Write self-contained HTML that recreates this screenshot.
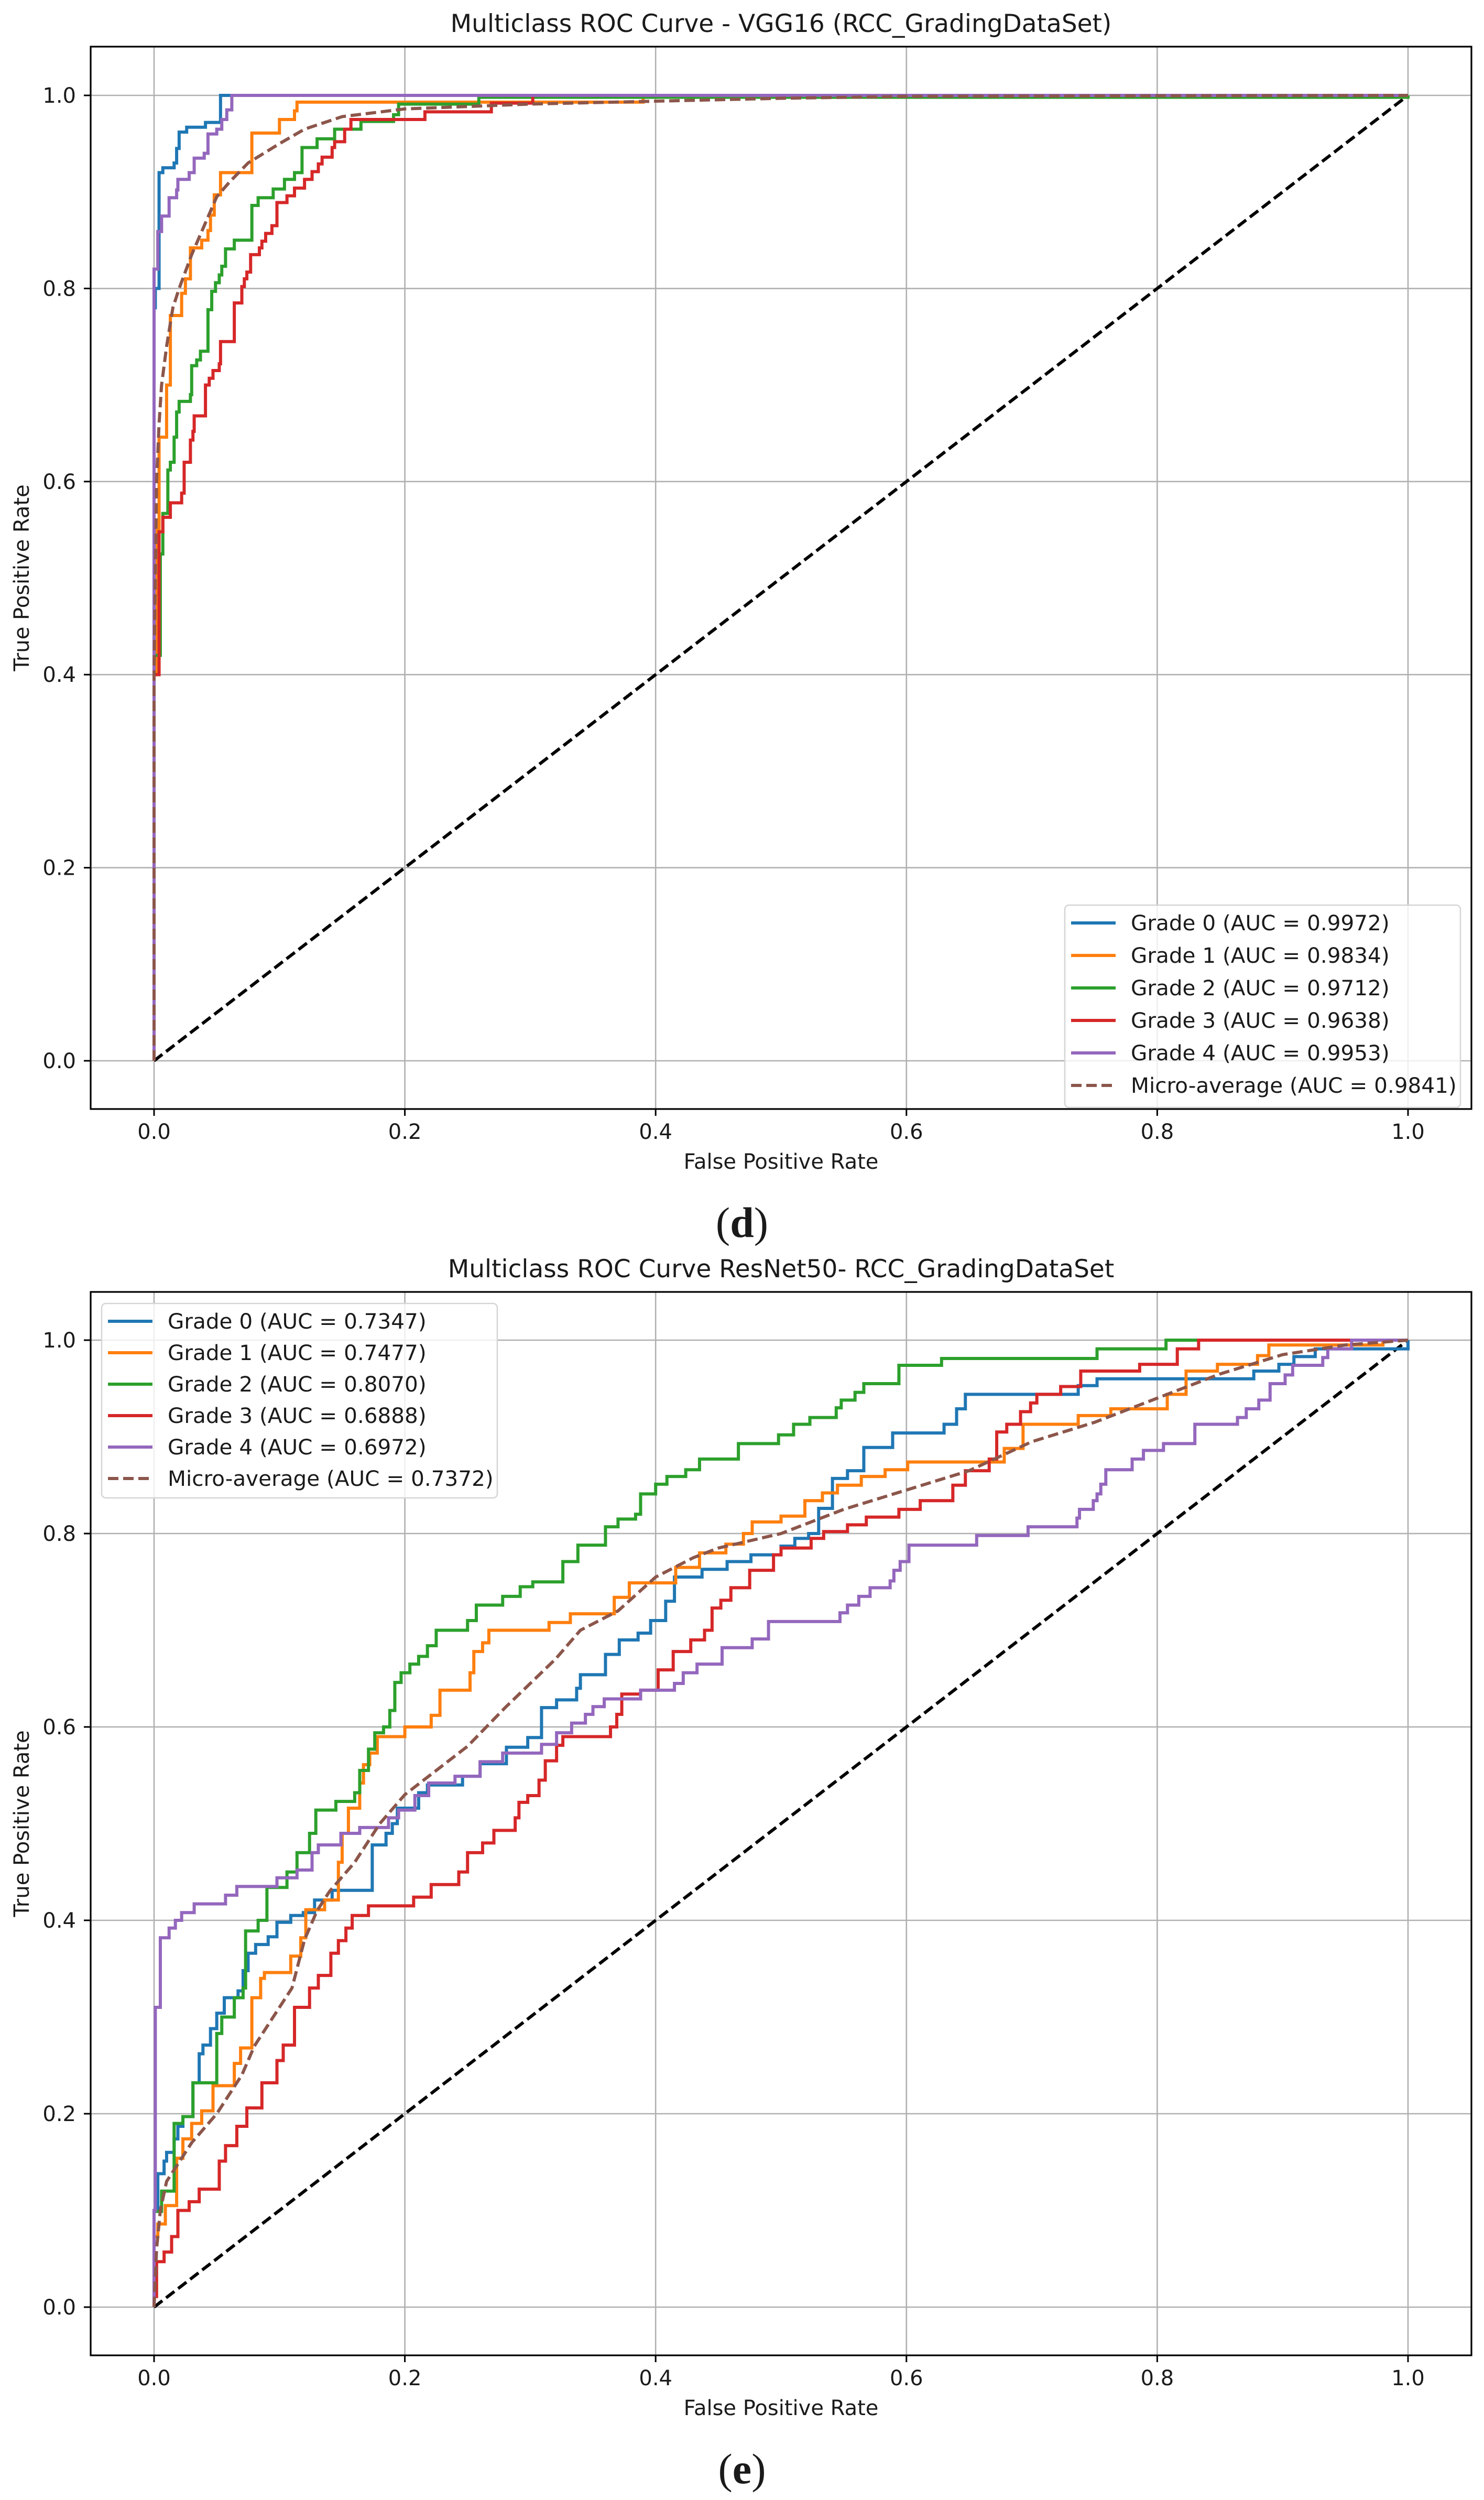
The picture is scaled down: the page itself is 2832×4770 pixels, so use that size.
<!DOCTYPE html>
<html><head><meta charset="utf-8">
<style>
html,body{margin:0;padding:0;background:#fff;}
svg{display:block;}
text{font-family:"DejaVu Sans","Liberation Sans",sans-serif;fill:#1a1a1a;}
</style></head>
<body>
<svg id="fig" width="2832" height="4770" viewBox="0 0 2832 4770" xmlns="http://www.w3.org/2000/svg">
<rect x="0" y="0" width="2832" height="4770" fill="#fff"/>
</svg>
<script>
// ---------- Data: panel (d) VGG16 ----------
const xTicks = [0.0, 0.2, 0.4, 0.6, 0.8, 1.0];
const yTicks = [0.0, 0.2, 0.4, 0.6, 0.8, 1.0];
const tickLabels = ["0.0", "0.2", "0.4", "0.6", "0.8", "1.0"];
const seriesNames = ["Grade 0", "Grade 1", "Grade 2", "Grade 3", "Grade 4", "Micro-average"];
const vggAuc = ["0.9972", "0.9834", "0.9712", "0.9638", "0.9953", "0.9841"];
const resAuc = ["0.7347", "0.7477", "0.8070", "0.6888", "0.6972", "0.7372"];

const vggG0x = [0, 0, 0.001, 0.004, 0.007, 0.016, 0.018, 0.020, 0.026, 0.041, 0.053, 1];
const vggG0y = [0, 0.78, 0.80, 0.92, 0.925, 0.93, 0.945, 0.962, 0.967, 0.972, 1.0, 1.0];
const vggG1x = [0, 0, 0.002, 0.004, 0.010, 0.013, 0.022, 0.025, 0.029, 0.038, 0.043, 0.045, 0.048, 0.053, 0.078, 0.100, 0.112, 0.114, 0.39, 1];
const vggG1y = [0, 0.40, 0.55, 0.646, 0.70, 0.772, 0.795, 0.81, 0.842, 0.85, 0.86, 0.876, 0.897, 0.92, 0.961, 0.975, 0.984, 0.993, 1.0, 1.0];
const vggG2x = [0, 0, 0.005, 0.007, 0.011, 0.013, 0.016, 0.018, 0.020, 0.029, 0.030, 0.034, 0.037, 0.043, 0.046, 0.049, 0.052, 0.054, 0.057, 0.064, 0.078, 0.078, 0.083, 0.095, 0.104, 0.112, 0.118, 0.130, 0.144, 0.165, 0.191, 0.195, 0.259, 1];
const vggG2y = [0, 0.42, 0.525, 0.567, 0.612, 0.62, 0.646, 0.672, 0.683, 0.69, 0.72, 0.726, 0.735, 0.778, 0.797, 0.806, 0.814, 0.823, 0.841, 0.85, 0.859, 0.886, 0.894, 0.903, 0.913, 0.92, 0.946, 0.955, 0.965, 0.973, 0.98, 0.991, 0.998, 1.0];
const vggG3x = [0, 0, 0.004, 0.007, 0.013, 0.022, 0.024, 0.029, 0.031, 0.032, 0.041, 0.044, 0.047, 0.052, 0.053, 0.064, 0.070, 0.072, 0.074, 0.077, 0.084, 0.086, 0.089, 0.094, 0.098, 0.106, 0.112, 0.120, 0.126, 0.131, 0.134, 0.142, 0.144, 0.152, 0.157, 0.216, 0.269, 0.302, 1];
const vggG3y = [0, 0.40, 0.548, 0.563, 0.578, 0.588, 0.62, 0.643, 0.652, 0.668, 0.70, 0.707, 0.715, 0.722, 0.745, 0.785, 0.802, 0.81, 0.817, 0.835, 0.842, 0.849, 0.857, 0.865, 0.889, 0.896, 0.904, 0.913, 0.921, 0.929, 0.936, 0.946, 0.952, 0.965, 0.975, 0.983, 0.992, 1.0, 1.0];
const vggG4x = [0, 0, 0.003, 0.006, 0.012, 0.018, 0.019, 0.028, 0.032, 0.040, 0.043, 0.050, 0.054, 0.058, 0.062, 1];
const vggG4y = [0, 0.82, 0.859, 0.875, 0.894, 0.902, 0.913, 0.92, 0.935, 0.94, 0.96, 0.965, 0.975, 0.985, 1.0, 1.0];
const vggMicroX = [0, 0, 0.002, 0.004, 0.006, 0.010, 0.015, 0.020, 0.030, 0.040, 0.050, 0.060, 0.075, 0.100, 0.120, 0.150, 0.200, 0.300, 0.400, 0.500, 0.600, 1];
const vggMicroY = [0, 0.40, 0.60, 0.66, 0.70, 0.74, 0.78, 0.80, 0.835, 0.865, 0.895, 0.91, 0.93, 0.95, 0.965, 0.978, 0.986, 0.991, 0.994, 0.997, 0.999, 1.0];

// ---------- Data: panel (e) ResNet50 ----------
const resG0x = [0, 0, 0.003, 0.008, 0.010, 0.016, 0.019, 0.023, 0.031, 0.036, 0.039, 0.045, 0.050, 0.056, 0.067, 0.071, 0.075, 0.081, 0.091, 0.098, 0.109, 0.119, 0.128, 0.142, 0.174, 0.185, 0.190, 0.194, 0.211, 0.218, 0.246, 0.260, 0.281, 0.298, 0.309, 0.321, 0.337, 0.340, 0.360, 0.371, 0.386, 0.396, 0.408, 0.415, 0.437, 0.457, 0.476, 0.500, 0.511, 0.522, 0.530, 0.541, 0.553, 0.566, 0.589, 0.630, 0.640, 0.647, 0.737, 0.752, 0.877, 0.897, 0.909, 0.926, 1.0];
const resG0y = [0, 0.10, 0.138, 0.151, 0.16, 0.174, 0.187, 0.197, 0.232, 0.262, 0.271, 0.288, 0.304, 0.32, 0.327, 0.348, 0.366, 0.375, 0.383, 0.398, 0.405, 0.408, 0.421, 0.431, 0.478, 0.49, 0.50, 0.516, 0.532, 0.54, 0.549, 0.562, 0.579, 0.589, 0.62, 0.628, 0.64, 0.654, 0.675, 0.69, 0.697, 0.71, 0.73, 0.755, 0.763, 0.771, 0.778, 0.787, 0.795, 0.80, 0.826, 0.857, 0.865, 0.889, 0.904, 0.913, 0.929, 0.944, 0.953, 0.96, 0.968, 0.975, 0.983, 0.991, 1.0];
const resG1x = [0, 0, 0.003, 0.009, 0.018, 0.023, 0.030, 0.038, 0.047, 0.064, 0.069, 0.078, 0.085, 0.088, 0.109, 0.117, 0.121, 0.136, 0.147, 0.150, 0.155, 0.164, 0.167, 0.172, 0.178, 0.200, 0.221, 0.228, 0.252, 0.255, 0.262, 0.267, 0.315, 0.332, 0.367, 0.379, 0.416, 0.435, 0.456, 0.470, 0.477, 0.500, 0.519, 0.533, 0.545, 0.564, 0.583, 0.601, 0.678, 0.693, 0.737, 0.763, 0.808, 0.823, 0.848, 0.880, 0.889, 0.980, 1.0];
const resG1y = [0, 0.073, 0.086, 0.105, 0.154, 0.174, 0.19, 0.203, 0.229, 0.252, 0.268, 0.32, 0.34, 0.346, 0.363, 0.382, 0.411, 0.421, 0.46, 0.49, 0.516, 0.542, 0.561, 0.573, 0.59, 0.60, 0.612, 0.638, 0.656, 0.678, 0.687, 0.70, 0.708, 0.717, 0.734, 0.749, 0.765, 0.78, 0.789, 0.80, 0.812, 0.818, 0.834, 0.842, 0.85, 0.859, 0.866, 0.874, 0.888, 0.913, 0.922, 0.929, 0.944, 0.968, 0.975, 0.984, 0.995, 1.0, 1.0];
const resG2x = [0, 0, 0.006, 0.016, 0.023, 0.031, 0.050, 0.054, 0.064, 0.071, 0.073, 0.083, 0.090, 0.106, 0.114, 0.124, 0.129, 0.145, 0.160, 0.164, 0.171, 0.176, 0.183, 0.188, 0.192, 0.197, 0.204, 0.211, 0.218, 0.225, 0.250, 0.257, 0.278, 0.292, 0.302, 0.326, 0.338, 0.360, 0.370, 0.384, 0.388, 0.400, 0.409, 0.424, 0.435, 0.466, 0.498, 0.510, 0.523, 0.544, 0.548, 0.559, 0.566, 0.594, 0.628, 0.752, 0.807, 1.0];
const resG2y = [0, 0.099, 0.12, 0.19, 0.197, 0.232, 0.283, 0.30, 0.32, 0.33, 0.389, 0.40, 0.434, 0.45, 0.47, 0.49, 0.514, 0.523, 0.532, 0.555, 0.577, 0.594, 0.60, 0.617, 0.646, 0.656, 0.665, 0.673, 0.684, 0.70, 0.71, 0.726, 0.735, 0.745, 0.75, 0.771, 0.788, 0.807, 0.815, 0.82, 0.841, 0.851, 0.859, 0.866, 0.877, 0.893, 0.902, 0.913, 0.92, 0.93, 0.938, 0.946, 0.955, 0.974, 0.981, 0.991, 1.0, 1.0];
const resG3x = [0, 0, 0.002, 0.008, 0.014, 0.019, 0.028, 0.036, 0.052, 0.057, 0.066, 0.074, 0.086, 0.098, 0.103, 0.112, 0.124, 0.131, 0.141, 0.147, 0.153, 0.158, 0.171, 0.207, 0.221, 0.243, 0.250, 0.262, 0.271, 0.288, 0.291, 0.298, 0.307, 0.312, 0.321, 0.326, 0.364, 0.369, 0.373, 0.388, 0.402, 0.414, 0.428, 0.439, 0.445, 0.452, 0.460, 0.475, 0.494, 0.500, 0.524, 0.534, 0.553, 0.568, 0.594, 0.611, 0.637, 0.647, 0.666, 0.672, 0.680, 0.691, 0.699, 0.704, 0.723, 0.739, 0.786, 0.816, 0.833, 1.0];
const resG3y = [0, 0.011, 0.047, 0.057, 0.073, 0.10, 0.109, 0.122, 0.151, 0.167, 0.187, 0.206, 0.232, 0.255, 0.271, 0.31, 0.33, 0.343, 0.366, 0.379, 0.392, 0.405, 0.415, 0.424, 0.437, 0.45, 0.47, 0.48, 0.493, 0.506, 0.522, 0.529, 0.545, 0.565, 0.581, 0.59, 0.60, 0.613, 0.634, 0.638, 0.659, 0.678, 0.69, 0.70, 0.723, 0.731, 0.744, 0.762, 0.778, 0.785, 0.795, 0.802, 0.809, 0.817, 0.825, 0.834, 0.85, 0.865, 0.877, 0.905, 0.913, 0.926, 0.935, 0.944, 0.952, 0.968, 0.975, 0.991, 1.0, 1.0];
const resG4x = [0, 0, 0.001, 0.005, 0.012, 0.017, 0.022, 0.032, 0.057, 0.066, 0.098, 0.114, 0.126, 0.131, 0.149, 0.164, 0.187, 0.195, 0.208, 0.219, 0.240, 0.260, 0.278, 0.309, 0.321, 0.333, 0.344, 0.350, 0.359, 0.388, 0.415, 0.422, 0.433, 0.453, 0.477, 0.490, 0.547, 0.553, 0.562, 0.571, 0.587, 0.590, 0.595, 0.602, 0.656, 0.697, 0.736, 0.738, 0.749, 0.752, 0.755, 0.759, 0.780, 0.789, 0.805, 0.830, 0.864, 0.871, 0.881, 0.890, 0.902, 0.908, 0.932, 0.936, 0.955, 1.0];
const resG4y = [0, 0.10, 0.31, 0.382, 0.392, 0.40, 0.408, 0.417, 0.426, 0.435, 0.444, 0.452, 0.47, 0.478, 0.49, 0.496, 0.506, 0.514, 0.529, 0.542, 0.549, 0.564, 0.573, 0.582, 0.594, 0.604, 0.613, 0.621, 0.629, 0.638, 0.645, 0.656, 0.665, 0.682, 0.691, 0.709, 0.718, 0.726, 0.735, 0.744, 0.751, 0.762, 0.771, 0.788, 0.798, 0.807, 0.816, 0.825, 0.834, 0.841, 0.851, 0.866, 0.877, 0.886, 0.893, 0.913, 0.92, 0.929, 0.938, 0.955, 0.964, 0.974, 0.982, 0.991, 1.0, 1.0];
const resMicroX = [0, 0.002, 0.005, 0.010, 0.020, 0.030, 0.050, 0.070, 0.080, 0.100, 0.110, 0.120, 0.130, 0.140, 0.160, 0.180, 0.200, 0.220, 0.250, 0.280, 0.300, 0.320, 0.340, 0.370, 0.400, 0.430, 0.450, 0.500, 0.550, 0.600, 0.650, 0.700, 0.750, 0.800, 0.850, 0.900, 0.950, 1.0];
const resMicroY = [0, 0.06, 0.10, 0.13, 0.15, 0.17, 0.20, 0.24, 0.27, 0.31, 0.33, 0.38, 0.41, 0.43, 0.46, 0.50, 0.53, 0.55, 0.58, 0.62, 0.645, 0.67, 0.70, 0.72, 0.755, 0.775, 0.785, 0.80, 0.825, 0.845, 0.865, 0.895, 0.915, 0.94, 0.965, 0.985, 0.995, 1.0];

const colors = ["#1f77b4", "#ff7f0e", "#2ca02c", "#d62728", "#9467bd", "#8c564b"];
const NS = "http://www.w3.org/2000/svg";
const fig = document.getElementById("fig");

function mk(tag, attrs, parent) {
  const e = document.createElementNS(NS, tag);
  for (const k in attrs) e.setAttribute(k, attrs[k]);
  parent.appendChild(e);
  return e;
}

function drawPanel(p) {
  const g = mk("g", {}, fig);
  
  
  const L = 173, R = 2808, T = p.top, B = p.bottom;
  const x0 = 294, xU = 2393, y0 = p.y0, yU = p.y0 - p.y1;
  const sx = v => x0 + v * xU;
  const sy = v => y0 - v * yU;

  for (let i = 0; i < xTicks.length; i++) {
    const gl = mk("line", {x1: sx(xTicks[i]), x2: sx(xTicks[i]), y1: T, y2: B, stroke: "#b0b0b0", "stroke-width": 2.6}, g);
    
    
  }
  for (let i = 0; i < yTicks.length; i++) {
    const gl = mk("line", {x1: L, x2: R, y1: sy(yTicks[i]), y2: sy(yTicks[i]), stroke: "#b0b0b0", "stroke-width": 2.6}, g);
    
    
  }
  const diag = mk("line", {x1: sx(0), y1: sy(0), x2: sx(1), y2: sy(1), stroke: "#000", "stroke-width": 6, "stroke-dasharray": "20 9"}, g);
  
  

  for (let s = 0; s < p.series.length; s++) {
    const xs = p.series[s][0], ys = p.series[s][1];
    let d = "M" + sx(xs[0]) + "," + sy(ys[0]);
    for (let i = 1; i < xs.length; i++) {
      if (s === 5) d += " L" + sx(xs[i]) + "," + sy(ys[i]);
      else d += " L" + sx(xs[i]) + "," + sy(ys[i - 1]) + " L" + sx(xs[i]) + "," + sy(ys[i]);
    }
    const path = mk("path", {d: d, fill: "none", stroke: colors[s], "stroke-width": 6, "stroke-linejoin": "miter"}, g);
    if (s === 5) path.setAttribute("stroke-dasharray", "20 9");
    
    
  }

  const frame = mk("rect", {x: L, y: T, width: R - L, height: B - T, fill: "none", stroke: "#000", "stroke-width": 3.2}, g);
  
  

  for (let i = 0; i < xTicks.length; i++) {
    mk("line", {x1: sx(xTicks[i]), x2: sx(xTicks[i]), y1: B, y2: B + 13, stroke: "#000", "stroke-width": 3}, g);
    const t = mk("text", {x: sx(xTicks[i]), y: B + 57, "text-anchor": "middle", "font-size": 40}, g);
    t.textContent = tickLabels[i];
    
    
  }
  for (let i = 0; i < yTicks.length; i++) {
    mk("line", {x1: L - 13, x2: L, y1: sy(yTicks[i]), y2: sy(yTicks[i]), stroke: "#000", "stroke-width": 3}, g);
    const t = mk("text", {x: 145, y: sy(yTicks[i]) + 14, "text-anchor": "end", "font-size": 40}, g);
    t.textContent = tickLabels[i];
    
    
  }
  const xt = mk("text", {x: (L + R) / 2, y: B + 114, "text-anchor": "middle", "font-size": 40}, g);
  xt.textContent = "False Positive Rate";
  
  
  const cy = (T + B) / 2;
  const yt = mk("text", {x: 55, y: cy, "text-anchor": "middle", "font-size": 40, transform: "rotate(-90 55 " + cy + ")"}, g);
  yt.textContent = "True Positive Rate";
  
  
  const tt = mk("text", {x: (L + R) / 2, y: T - 28, "text-anchor": "middle", "font-size": 47}, g);
  tt.textContent = p.title;
  
  
  const pl = mk("text", {x: 1416, y: p.letterY, "text-anchor": "middle", "font-size": 82}, g);
  pl.setAttribute("style", "font-family:'Liberation Serif',serif;");
  pl.innerHTML = '(<tspan font-weight="bold">' + p.letter + '</tspan>)';
  
  

  const lg = mk("g", {}, g);
  
  
  mk("rect", {x: p.lx, y: p.ly, width: 755, height: p.lh, rx: 8, fill: "#fff", "fill-opacity": 0.8, stroke: "#d5d5d5", "stroke-width": 2.5}, lg);
  for (let s = 0; s < 6; s++) {
    const ry = p.ly + 34 + s * p.rowH;
    const h = mk("line", {x1: p.lx + 12, x2: p.lx + 97, y1: ry, y2: ry, stroke: colors[s], "stroke-width": 6}, lg);
    if (s === 5) h.setAttribute("stroke-dasharray", "20 9");
    
    
    const t = mk("text", {x: p.lx + 126, y: ry + 14, "font-size": 40.5}, lg);
    t.textContent = seriesNames[s] + " (AUC = " + p.auc[s] + ")";
    
    
  }
}

drawPanel({
  id: "vgg16", title: "Multiclass ROC Curve - VGG16 (RCC_GradingDataSet)",
  top: 89, bottom: 2116, y0: 2024, y1: 182, letter: "d", letterY: 2360,
  lx: 2032, ly: 1727, lh: 386, rowH: 62, auc: vggAuc,
  series: [[vggG0x, vggG0y], [vggG1x, vggG1y], [vggG2x, vggG2y], [vggG3x, vggG3y], [vggG4x, vggG4y], [vggMicroX, vggMicroY]]
});
drawPanel({
  id: "resnet50", title: "Multiclass ROC Curve ResNet50- RCC_GradingDataSet",
  top: 2465, bottom: 4494, y0: 4402, y1: 2557, letter: "e", letterY: 4738,
  lx: 194, ly: 2487, lh: 371, rowH: 60, auc: resAuc,
  series: [[resG0x, resG0y], [resG1x, resG1y], [resG2x, resG2y], [resG3x, resG3y], [resG4x, resG4y], [resMicroX, resMicroY]]
});
</script>
</body></html>
